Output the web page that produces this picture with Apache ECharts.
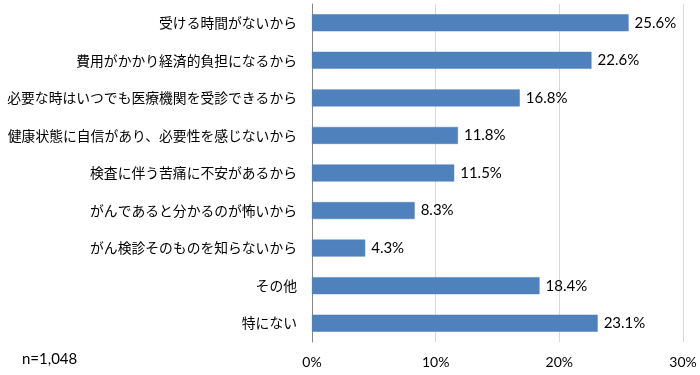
<!DOCTYPE html>
<html><head><meta charset="utf-8">
<script src="https://cdn.jsdelivr.net/npm/echarts@6/dist/echarts.min.js"></script>
<style>html,body{margin:0;padding:0;background:#fff;}#c{width:700px;height:375px;}</style>
</head><body><div id="c"></div>
<script>
const categories = ["受ける時間がないから","費用がかかり経済的負担になるから","必要な時はいつでも医療機関を受診できるから","健康状態に自信があり、必要性を感じないから","検査に伴う苦痛に不安があるから","がんであると分かるのが怖いから","がん検診そのものを知らないから","その他","特にない"];
const values = [25.6,22.6,16.8,11.8,11.5,8.3,4.3,18.4,23.1];
const xTicks = [0,10,20,30];
const note = "n=1,048";

const chart = echarts.init(document.getElementById('c'));
chart.setOption({
  animation:false,
  grid:{left:312,right:17,top:4,bottom:33},
  xAxis:{type:'value',min:xTicks[0],max:xTicks[xTicks.length-1],interval:10,
    axisLine:{show:false},axisTick:{show:false},
    splitLine:{lineStyle:{color:'#d9d9d9',width:1}},
    axisLabel:{formatter:v=>v+'%',color:'#000',fontFamily:'Lato, "Open Sans", sans-serif',fontSize:14,margin:13}},
  yAxis:{type:'category',inverse:true,data:categories,
    axisLine:{lineStyle:{color:'#868686'}},axisTick:{show:false},
    axisLabel:{color:'#000',fontFamily:'"Noto Sans CJK JP", sans-serif',fontSize:13.8,margin:15}},
  series:[{type:'bar',data:values,barWidth:17,
    itemStyle:{color:'#4F81BD',borderColor:'#4A7EBB',borderWidth:0.5},
    label:{show:true,position:'right',distance:6,formatter:p=>p.value.toFixed(1)+'%',color:'#000',fontFamily:'Lato, "Open Sans", sans-serif',fontSize:15}}],
  graphic:[{type:'text',left:22,top:352,style:{text:note,fill:'#000',font:'15px Lato, "Open Sans", sans-serif'}}]
});
</script></body></html>
